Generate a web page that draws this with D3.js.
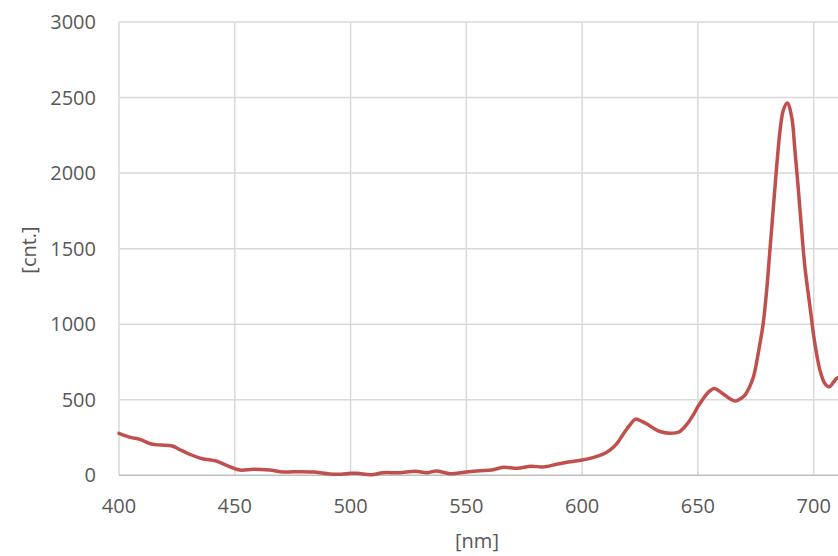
<!DOCTYPE html>
<html>
<head>
<meta charset="utf-8">
<script src="https://cdn.jsdelivr.net/npm/d3@7"></script>
<style>
  html, body { margin: 0; padding: 0; background: #fff; }
  svg { display: block; }
  text { font-family: "Open Sans", "Noto Sans", sans-serif; fill: #595959; }
</style>
</head>
<body>
<svg id="chart" width="838" height="556"></svg>
<script>
// Emission spectrum: wavelength [nm] vs detector counts
const wavelength = [400,405,409,414,418,423,426,431,436,442,447,452,458,465,471,478,484,491,496,500,
  503,509,514,521,528,533,537,543,550,556,561,566,572,578,583,589,595,600,605,609,
  612,615,618,621,623,626,628,631,634,638,642,645,648,650,652,654,657,659,661,664,
  666,668,670.3,672,674,676.8,678.2,679.7,681.1,682.6,684,685.5,686.9,688.6,690.5,691.9,
  693.4,694.8,696.2,698.4,700.5,702.7,704.8,706.7,708.7,709.9,711];
const counts = [278,251,238,207,200,194,172,136,110,95,62,35,40,35,22,24,22,9,7,13,
  13,4,17,17,26,17,28,11,22,30,35,53,46,60,55,73,90,101,119,140,
  167,210,278,340,372,355,339,310,288,278,288,333,400,454,500,542,575,560,538,505,
  491,503,531,575,652,873,1005,1225,1490,1776,2041,2284,2416,2464,2372,2151,
  1887,1622,1380,1115,873,696,608,586,619,641,650];
const xTicks = [400,450,500,550,600,650,700];
const yTicks = [0,500,1000,1500,2000,2500,3000];

const svg = d3.select("#chart");
const plotLeft = 119, plotRight = 838, plotTop = 22, plotBottom = 475.3;

const x = d3.scaleLinear().domain([400, 710.5]).range([plotLeft, plotRight]);
const y = d3.scaleLinear().domain([0, 3000]).range([plotBottom, plotTop]);

// gridlines
svg.append("g").selectAll("line").data(xTicks).join("line")
  .attr("x1", d => x(d)).attr("x2", d => x(d))
  .attr("y1", plotTop).attr("y2", plotBottom)
  .attr("stroke", "#d9d9d9").attr("stroke-width", 1.5);
svg.append("g").selectAll("line").data(yTicks.filter(d => d > 0)).join("line")
  .attr("x1", plotLeft).attr("x2", plotRight)
  .attr("y1", d => y(d)).attr("y2", d => y(d))
  .attr("stroke", "#d9d9d9").attr("stroke-width", 1.5);
// baseline
svg.append("line")
  .attr("x1", plotLeft).attr("x2", plotRight).attr("y1", y(0)).attr("y2", y(0))
  .attr("stroke", "#bfbfbf").attr("stroke-width", 1.5);

// tick labels
svg.append("g").selectAll("text").data(yTicks).join("text")
  .attr("x", 96).attr("y", d => y(d)).attr("dy", "0.35em")
  .attr("text-anchor", "end").attr("font-size", 20)
  .text(d => d);
svg.append("g").selectAll("text").data(xTicks).join("text")
  .attr("x", d => x(d)).attr("y", 506).attr("dy", "0.35em")
  .attr("text-anchor", "middle").attr("font-size", 20)
  .text(d => d);

// axis titles
svg.append("text").attr("x", 477).attr("y", 541).attr("dy", "0.35em")
  .attr("text-anchor", "middle").attr("font-size", 20).text("[nm]");
svg.append("text").attr("transform", "translate(29,250) rotate(-90)")
  .attr("dy", "0.35em").attr("text-anchor", "middle").attr("font-size", 20).text("[cnt.]");

// spectrum
svg.append("clipPath").attr("id", "plot-clip").append("rect")
  .attr("x", plotLeft - 3).attr("y", 0).attr("width", plotRight - plotLeft + 3).attr("height", 556);
const pts = wavelength.map((w, i) => [w, counts[i]]);
const line = d3.line().x(d => x(d[0])).y(d => y(d[1])).curve(d3.curveCatmullRom.alpha(0.5));
svg.append("path").attr("clip-path", "url(#plot-clip)")
  .datum(pts).attr("d", line)
  .attr("fill", "none").attr("stroke", "#c0504d").attr("stroke-width", 3.5)
  .attr("stroke-linejoin", "round").attr("stroke-linecap", "round");
</script>
</body>
</html>
